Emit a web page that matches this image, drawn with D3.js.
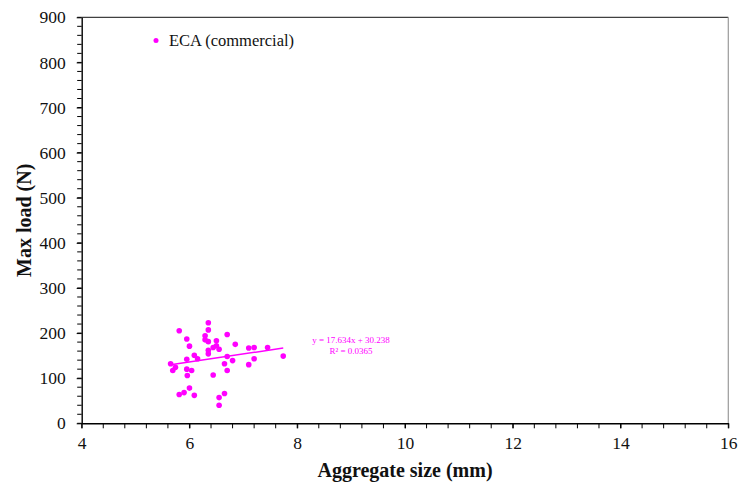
<!DOCTYPE html>
<html><head><meta charset="utf-8">
<script src="https://cdn.jsdelivr.net/npm/d3@7"></script>
<style>
html,body{margin:0;padding:0;background:#fff;}
svg text{font-family:"Liberation Serif","Times New Roman",serif !important;}
</style></head>
<body>
<svg id="chart" width="739" height="487"></svg>
<script>
// Data
const seriesName = "ECA (commercial)";
const aggregateSize = [5.81,6.35,6.35,5.95,6.00,6.29,6.29,6.35,6.50,6.70,6.85,6.44,6.50,6.55,6.35,6.35,7.10,7.20,7.45,7.74,6.09,6.15,5.95,6.70,6.80,7.20,7.10,6.65,5.65,5.74,5.69,5.95,6.04,5.96,6.44,6.70,6.00,5.90,5.81,6.09,6.55,6.65,6.55];
const maxLoad = [205,223,207,187,171,194,185,181,183,197,175,168,172,164,162,154,167,168,168,149,151,143,142,148,139,143,130,132,132,124,117,120,117,106,107,117,78,68,64,62,57,66,40];
const trendSlope = 17.634, trendIntercept = 30.238;
const equationLabels = ["y = 17.634x + 30.238", "R\u00b2 = 0.0365"];
const xTicks = [4,6,8,10,12,14,16];
const yTicks = [0,100,200,300,400,500,600,700,800,900];
const xTitle = "Aggregate size (mm)";
const yTitle = "Max load (N)";

const color = "#ff00ff";
const serif = "'Liberation Serif','Times New Roman',serif";
const svg = d3.select("#chart");
const L = 81.7, R = 728.3, T = 17.3, B = 423.3;
const x = d3.scaleLinear().domain([4,16]).range([L,R]);
const y = d3.scaleLinear().domain([0,900]).range([B,T]);

// frame top/right
svg.append("line").attr("x1",L).attr("x2",R).attr("y1",T).attr("y2",T).attr("stroke","#404040").attr("stroke-width",1.2);
svg.append("line").attr("x1",R).attr("x2",R).attr("y1",T).attr("y2",B).attr("stroke","#9a9a9a").attr("stroke-width",1.2);

// minor ticks
const xMinor = d3.range(4, 16.001, 0.4);
svg.append("g").selectAll("line").data(xMinor).join("line")
  .attr("x1",d=>x(d)).attr("x2",d=>x(d)).attr("y1",B).attr("y2",B+5)
  .attr("stroke","#000").attr("stroke-width",1);
const yMinor = d3.range(0, 900.001, 20);
svg.append("g").selectAll("line").data(yMinor).join("line")
  .attr("x1",L-4.5).attr("x2",L).attr("y1",d=>y(d)).attr("y2",d=>y(d))
  .attr("stroke","#000").attr("stroke-width",1);

// axes
const xAxis = svg.append("g").attr("transform",`translate(0,${B})`)
  .call(d3.axisBottom(x).tickValues(xTicks).tickSize(5).tickPadding(8).tickSizeOuter(0));
const yAxis = svg.append("g").attr("transform",`translate(${L},0)`)
  .call(d3.axisLeft(y).tickValues(yTicks).tickSize(5).tickPadding(11).tickSizeOuter(0));
[xAxis,yAxis].forEach(g=>{
  g.attr("font-family",serif);
  g.select(".domain").attr("stroke","#000").attr("stroke-width",1.4);
  g.selectAll(".tick line").attr("stroke","#000");
  g.selectAll("text").style("font-family",serif)
    .attr("font-size",17.5).attr("fill","#111");
});
xAxis.selectAll("text").attr("dy","0.71em");

// titles
svg.append("text").attr("x",(L+R)/2).attr("y",477).attr("text-anchor","middle").style("font-family",serif)
  .attr("font-size",20).attr("font-weight","bold").attr("fill","#111").text(xTitle);
svg.append("text").attr("transform",`translate(31,${(T+B)/2}) rotate(-90)`).attr("text-anchor","middle").style("font-family",serif)
  .attr("font-size",20).attr("font-weight","bold").attr("fill","#111").text(yTitle);

// trend line
const xMin = d3.min(aggregateSize), xMax = d3.max(aggregateSize);
svg.append("line").attr("x1",x(xMin)).attr("x2",x(xMax))
  .attr("y1",y(trendSlope*xMin+trendIntercept)).attr("y2",y(trendSlope*xMax+trendIntercept))
  .attr("stroke",color).attr("stroke-width",1.5);

// points
svg.append("g").selectAll("circle").data(aggregateSize.map((d,i)=>[d,maxLoad[i]])).join("circle")
  .attr("cx",d=>x(d[0])).attr("cy",d=>y(d[1])).attr("r",2.8).attr("fill",color);

// equation
svg.append("g").selectAll("text").data(equationLabels).join("text")
  .attr("x",351).attr("y",(d,i)=>343+i*10.5).attr("text-anchor","middle").style("font-family",serif)
  .attr("font-size",9).attr("fill",color).text(d=>d);

// legend
svg.append("circle").attr("cx",156).attr("cy",40.5).attr("r",2.5).attr("fill",color);
svg.append("text").attr("x",169).attr("y",46).style("font-family",serif).attr("font-size",16.5).attr("fill","#111").text(seriesName);
</script>
</body></html>
